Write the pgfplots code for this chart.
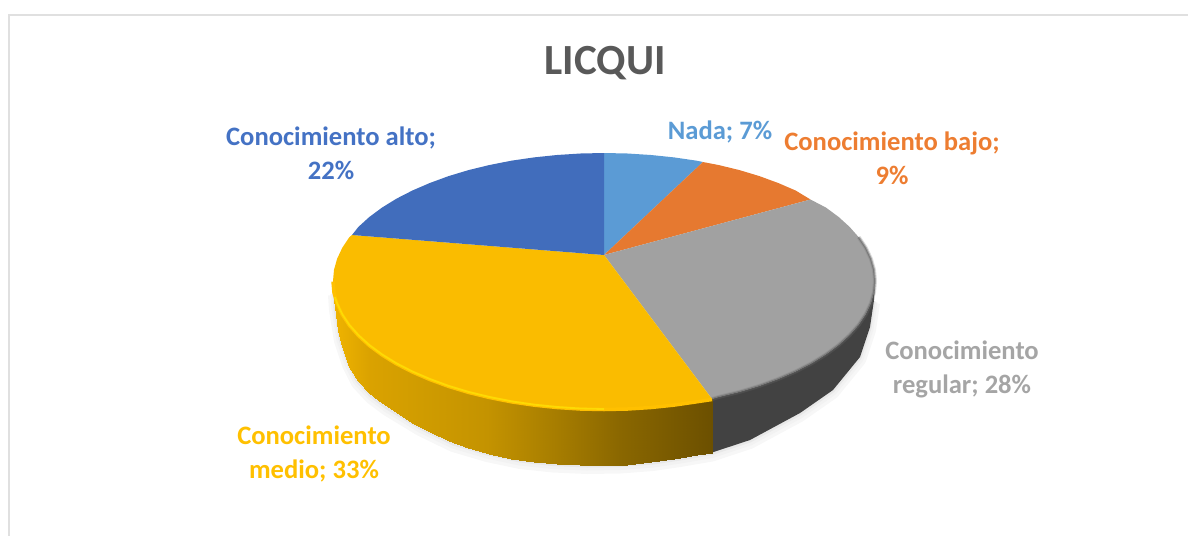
\documentclass[border=0pt]{standalone}
\usepackage{pgfplots}
\pgfplotsset{compat=1.18}
\usepackage{pgfplotstable}
\usepackage{fontspec}
\setmainfont{Carlito}
\pgfplotstableread{
x y
604 255
604 153
627.6 153.5
651 155
674.1 157.4
696.7 160.7
702.9 162
}\nadaT
\pgfplotstableread{
x y
604 255
702.9 162
718.5 165
739.5 170.1
759.4 176.1
778.2 183
795.6 190.5
810.5 199.5
}\bajoT
\pgfplotstableread{
x y
604 255
810.5 199.5
826 207.6
838.7 217
849.6 226.9
858.7 237.2
865.8 247.9
870.9 258.8
874 269.8
875 281
874 292.2
870.9 303.2
865.8 314.1
858.7 324.8
849.6 335.1
838.7 345
826 354.4
811.6 363.3
795.6 371.5
778.2 379
759.4 385.9
739.5 391.9
718.5 397
712 399
}\regT
\pgfplotstableread{
x y
604 255
712 399
696.7 401.3
674.1 404.6
651 407
627.6 408.5
604 409
580.4 408.5
557 407
533.9 404.6
511.3 401.3
489.5 397
468.5 391.9
448.6 385.9
429.8 379
412.4 371.5
396.4 363.3
382 354.4
369.3 345
358.4 335.1
349.3 324.8
342.2 314.1
337.1 303.2
334 292.2
333 281
334 269.8
337.1 258.8
342.2 247.9
349.3 237.2
352 235
}\medT
\pgfplotstableread{
x y
604 255
352 235
358.4 226.9
369.3 217
382 207.6
396.4 198.7
412.4 190.5
429.8 183
448.6 176.1
468.5 170.1
489.5 165
511.3 160.7
533.9 157.4
557 155
580.4 153.5
604 153
}\altoT
\pgfplotstableread{
x y
712 399
718.5 397
739.5 391.9
759.4 385.9
778.2 379
795.6 371.5
811.6 363.3
826 354.4
838.7 345
849.6 335.1
858.7 324.8
865.8 314.1
870.9 303.2
874 292.2
875 281
874 300
870 327
860 357
833 390
800 413
750 440
712 452.5
}\greySide
\pgfplotstableread{
x y
334 292
335 307
340 338
348 362
357 380
371 395
387 407
420 427
453 443
487 453
520 460
553 463.5
587 465
620 464.5
653 462
680 458
712 452.5
750 440
800 413
833 390
860 357
870 327
874 300
}\bottomT
\pgfplotstableread{
x y
333 288
333 292
335 297
335 307
337 303
338 331
342 314
342 346
349 325
349 367
358 335
358 381
369 345
369 393
382 354
382 403
396 363
396 412
412 371.5
412 423
430 379
430 432
449 386
449 441
468 392
468 448
489 397
489 454
511 401
511 459
534 405
534 462
557 407
557 463.5
580 408.5
580 465
604 409
604 465
627 408.5
627 464.5
651 407
651 462
674 404.6
674 459
697 401.3
697 455
712 399
712 452.5
}\goldSide
\pgfplotstableread{
x y
335 297
337.1 303.2
342.2 314.1
349.3 324.8
358.4 335.1
369.3 345
382 354.4
396.4 363.3
412.4 371.5
429.8 379
448.6 385.9
468.5 391.9
489.5 397
511.3 401.3
533.9 404.6
557 407
580.4 408.5
604 409
}\rimG
\pgfplotstableread{
x y
333 281
334 292.2
337.1 303.2
342.2 314.1
349.3 324.8
358.4 335.1
369.3 345
382 354.4
396.4 363.3
412.4 371.5
429.8 379
448.6 385.9
468.5 391.9
489.5 397
511.3 401.3
533.9 404.6
557 407
580.4 408.5
604 409
627.6 408.5
651 407
674.1 404.6
696.7 401.3
712 399
}\rimGwide
\pgfplotstableread{
x y
858.7 237.2
865.8 247.9
870.9 258.8
874 269.8
875 281
874 292.2
870.9 303.2
865.8 314.1
858.7 324.8
849.6 335.1
838.7 345
826 354.4
811.6 363.3
795.6 371.5
778.2 379
759.4 385.9
739.5 391.9
718.5 397
712 399
}\rimGr
\pgfplotstableread{
x y
9 536
9 15
1188 15
}\frameT
\definecolor{cNada}{HTML}{5B9BD5}
\definecolor{cBajo}{HTML}{ED7D31}
\definecolor{cReg}{HTML}{A5A5A5}
\definecolor{cMed}{HTML}{FFC000}
\definecolor{cAlto}{HTML}{4472C4}
\tikzset{lab/.style={font=\bfseries\fontsize{26.6}{34}\selectfont, align=center}}
\begin{document}
\begin{tikzpicture}
\useasboundingbox (0,0) rectangle (1188pt,536pt);
\begin{axis}[
  at={(0,0)}, anchor=south west,
  scale only axis, width=1188pt, height=536pt,
  xmin=0, xmax=1188, ymin=0, ymax=536, y dir=reverse,
  hide axis, clip=true,
  colormap={goldside}{rgb255(333)=(240,180,0) rgb255(370)=(218,162,0) rgb255(420)=(208,156,0) rgb255(487)=(196,147,0) rgb255(553)=(168,126,0) rgb255(620)=(138,103,0) rgb255(712)=(108,80,0)},
  point meta min=333, point meta max=712,
]
\addplot[no marks, draw=black!12, line width=2pt] table {\frameT};
% soft shadow
\addplot[no marks, draw=black!3, line width=12pt, line join=round] table[y expr=\thisrow{y}+3] {\bottomT};
\addplot[no marks, draw=black!5, line width=7pt, line join=round] table[y expr=\thisrow{y}+2] {\bottomT};
\addplot[no marks, draw=black!9, line width=3pt, line join=round] table[y expr=\thisrow{y}+1] {\bottomT};
% side walls
\addplot[no marks, fill=black!74, draw=none] table {\greySide} -- cycle;
\addplot[surf, shader=interp, mesh/cols=2, point meta=x] table {\goldSide};
% top face
\addplot[no marks, fill=cNada, draw=none] table {\nadaT} -- cycle;
\addplot[no marks, fill=cBajo!97!black, draw=none] table {\bajoT} -- cycle;
\addplot[no marks, fill=black!37, draw=none] table {\regT} -- cycle;
\addplot[no marks, fill=cMed!98!black, draw=none] table {\medT} -- cycle;
\addplot[no marks, fill=cAlto!96!black, draw=none] table {\altoT} -- cycle;
% rims
\addplot[no marks, draw=black!55, line width=4pt, opacity=.25] table {\rimGr};
\addplot[no marks, draw=black!65, line width=2pt, opacity=.45] table {\rimGr};
\addplot[no marks, draw=cMed, line width=3.5pt, line join=round] table[y expr=\thisrow{y}+.5] {\rimGwide};
\addplot[no marks, draw=yellow!55!cMed, line width=1.8pt, line join=round] table {\rimG};
% texts
\node[font=\bfseries\fontsize{43}{50}\selectfont, text=black!65] at (axis cs:605,63) {LICQUI};
\node[lab, text=cAlto] at (axis cs:331,153) {Conocimiento alto;\\22\%};
\node[lab, text=cNada] at (axis cs:720,132) {Nada; 7\%};
\node[lab, text=cBajo] at (axis cs:892,158) {Conocimiento bajo;\\9\%};
\node[lab, text=cReg] at (axis cs:962,369) {Conocimiento\\regular; 28\%};
\node[lab, text=cMed] at (axis cs:314,454) {Conocimiento\\medio; 33\%};
\end{axis}
\end{tikzpicture}
\end{document}
